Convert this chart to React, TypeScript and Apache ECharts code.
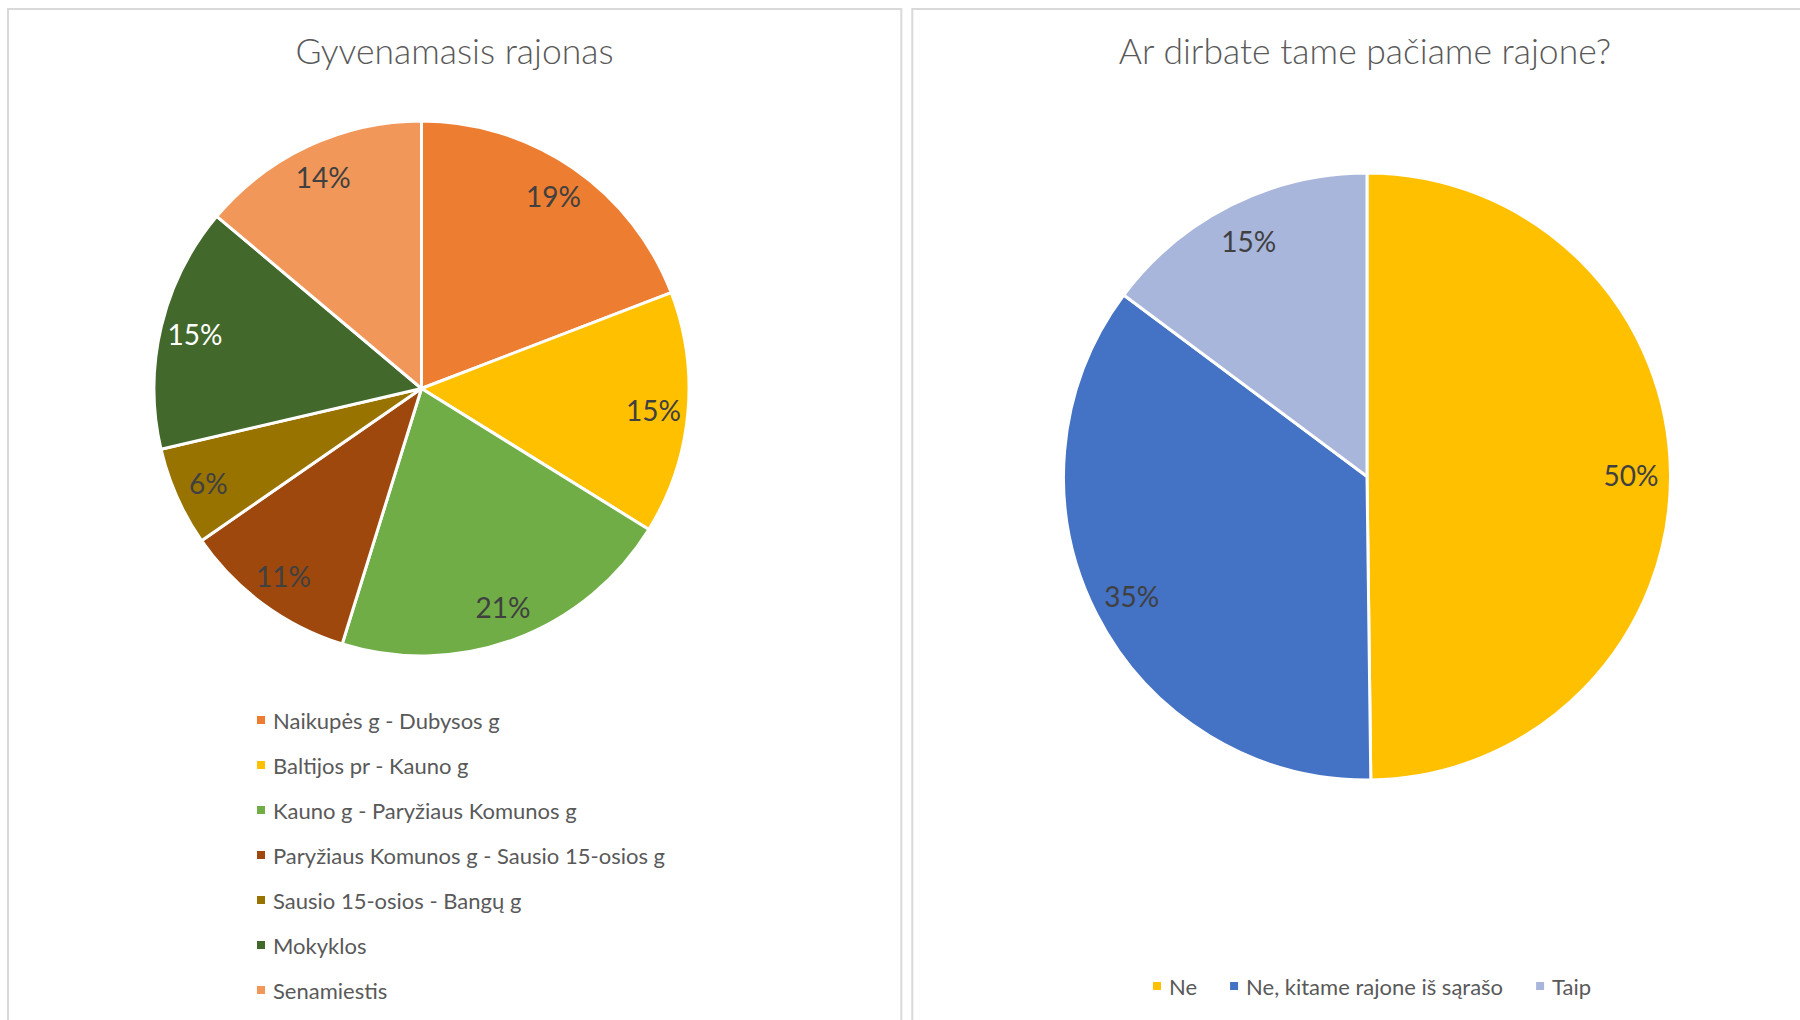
import React, { useEffect, useRef } from "react";
import * as echarts from "echarts";

const leftTitle = "Gyvenamasis rajonas";
const rightTitle = "Ar dirbate tame pačiame rajone?";

const districtNames = [
  "Naikupės g - Dubysos g",
  "Baltijos pr - Kauno g",
  "Kauno g - Paryžiaus Komunos g",
  "Paryžiaus Komunos g - Sausio 15-osios g",
  "Sausio 15-osios - Bangų g",
  "Mokyklos",
  "Senamiestis",
];
const districtValues = [19.2, 14.7, 21.0, 10.6, 6.0, 14.8, 13.9];
const districtColors = ["#ED7D31", "#FFC000", "#70AD47", "#9E480E", "#997300", "#43682B", "#F1975A"];
const districtLabelColors = ["#404040", "#404040", "#404040", "#404040", "#404040", "#FFFFFF", "#404040"];

const workNames = ["Ne", "Ne, kitame rajone iš sąrašo", "Taip"];
const workValues = [49.8, 35.4, 14.8];
const workColors = ["#FFC000", "#4472C4", "#A9B6DB"];
const workLabelColors = ["#404040", "#404040", "#404040"];

const FONT = "Lato, 'Open Sans', sans-serif";
const TEXT = "#595959";

function pctFormatter(values: number[]) {
  const total = values.reduce((a, b) => a + b, 0);
  return (p: any) => Math.round((p.value / total) * 100) + "%";
}

function pieSeries(
  names: string[],
  values: number[],
  colors: string[],
  labelColors: string[],
  center: number[],
  r: number,
  labelSize: number
) {
  const main = {
    type: "pie",
    center,
    radius: [0, r],
    startAngle: 90,
    clockwise: true,
    silent: true,
    label: { show: false },
    labelLine: { show: false },
    itemStyle: { borderColor: "#FFFFFF", borderWidth: 3 },
    data: names.map((n, i) => ({ name: n, value: values[i], itemStyle: { color: colors[i] } })),
  };
  const overlay = {
    type: "pie",
    center,
    radius: [r * 0.72, r],
    startAngle: 90,
    clockwise: true,
    silent: true,
    legendHoverLink: false,
    itemStyle: { color: "rgba(0,0,0,0)", borderWidth: 0 },
    labelLine: { show: false },
    label: {
      show: true,
      position: "inside",
      fontFamily: FONT,
      fontSize: labelSize,
      formatter: pctFormatter(values),
    },
    data: names.map((n, i) => ({
      name: n,
      value: values[i],
      label: { color: labelColors[i] },
    })),
  };
  return [main, overlay];
}

export default function App() {
  const ref = useRef<HTMLDivElement>(null);
  useEffect(() => {
    if (!ref.current) return;
    const chart = echarts.init(ref.current, undefined, { renderer: "svg" });
    const option: any = {
      animation: false,
      backgroundColor: "#FFFFFF",
      title: [
        {
          text: leftTitle,
          left: 449.5,
          top: 27,
          textAlign: "center",
          textStyle: { fontFamily: FONT, fontSize: 35.5, fontWeight: 300, color: TEXT },
        },
        {
          text: rightTitle,
          left: 1360,
          top: 27,
          textAlign: "center",
          textStyle: { fontFamily: FONT, fontSize: 35.5, fontWeight: 300, color: TEXT },
        },
      ],
      legend: [
        {
          orient: "vertical",
          left: 250,
          top: 703,
          itemWidth: 10,
          itemHeight: 10,
          itemGap: 21,
          icon: "rect",
          selectedMode: false,
          textStyle: { fontFamily: FONT, fontSize: 22, color: TEXT, lineHeight: 24, padding: [0, 0, 0, 2] },
          data: districtNames.map((n, i) => ({ name: n, itemStyle: { color: districtColors[i] } })),
        },
        {
          orient: "horizontal",
          left: 1146,
          top: 969,
          itemWidth: 10,
          itemHeight: 10,
          itemGap: 31,
          icon: "rect",
          selectedMode: false,
          textStyle: { fontFamily: FONT, fontSize: 22, color: TEXT, lineHeight: 24, padding: [0, 0, 0, 2] },
          data: workNames.map((n, i) => ({ name: n, itemStyle: { color: workColors[i] } })),
        },
      ],
      graphic: [
        {
          type: "rect",
          silent: true,
          shape: { x: 8, y: 9, width: 893.3, height: 1100 },
          style: { fill: "none", stroke: "#D9D9D9", lineWidth: 2 },
        },
        {
          type: "rect",
          silent: true,
          shape: { x: 912.3, y: 9, width: 1000, height: 1100 },
          style: { fill: "none", stroke: "#D9D9D9", lineWidth: 2 },
        },
      ],
      series: [
        ...pieSeries(districtNames, districtValues, districtColors, districtLabelColors, [421.5, 388.5], 267.5, 28),
        ...pieSeries(workNames, workValues, workColors, workLabelColors, [1367, 476.5], 303.5, 28),
      ],
    };
    chart.setOption(option);
    return () => chart.dispose();
  }, []);
  return (
    <div
      ref={ref}
      style={{ position: "fixed", left: 0, top: 0, width: 1800, height: 1020, background: "#FFFFFF" }}
    />
  );
}
